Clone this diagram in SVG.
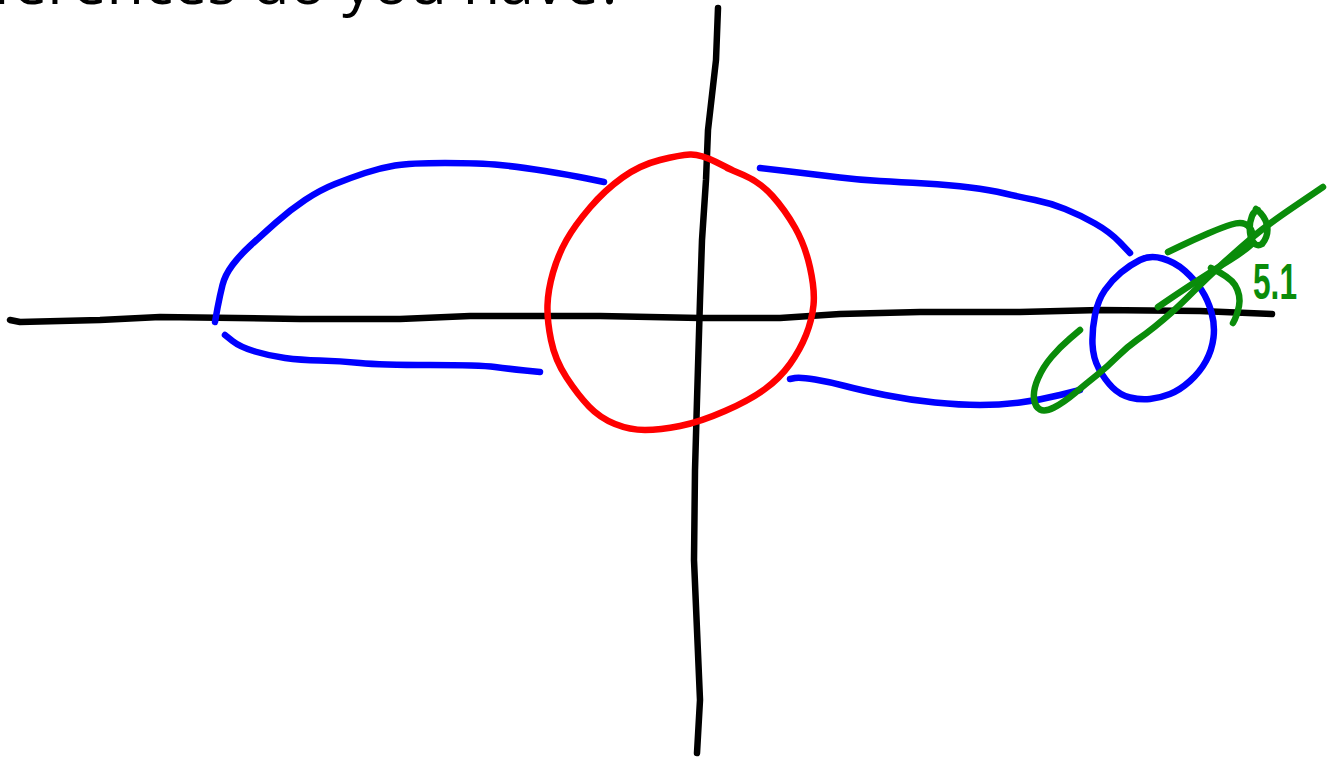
<svg xmlns="http://www.w3.org/2000/svg" width="1337" height="759" viewBox="0 0 1337 759">
<style>
.s{fill:none;stroke-width:6.5;stroke-linecap:round;stroke-linejoin:round}
.k{stroke:#000}
.r{stroke:#ff0000}
.b{stroke:#0000ff}
.g{stroke:#0a8c0a}
.t{font-family:"Open Sans",sans-serif;font-size:61px;fill:#000}
</style>
<rect width="1337" height="759" fill="#fff"/>
<text class="t" x="625" y="4" text-anchor="end">differences do you have?</text>
<g id="axes">
<path class="s k" d="M10,320 L20,322 L100,320 L160,317 L300,319 L400,319 L470,316 L600,316 L700,318 L780,318 L840,314 L920,312 L1020,312 L1100,310 L1200,311 L1272,314"/>
<path class="s k" d="M718,8 L716,60 L712,95 L708,130 L706,180 L702,240 L700,300 L697,400 L695,470 L694,560 L697,630 L700,700 L697,753"/>
</g>
<g id="red-circle">
<path class="s r" d="M727,168 L743.5,175 Q760,182 772.5,196 Q785,210 795,227.5 Q805,245 810,267.5 Q815,290 813.5,305 Q812,320 806,335 Q800,350 790,364 Q780,378 765,389 Q750,400 725,411 Q700,422 680,426 Q660,430 645,430 Q630,430 615,424 Q600,418 589,406.5 Q578,395 566.5,377.5 Q555,360 551,340 Q547,320 547.5,305 Q548,290 553,272.5 Q558,255 566.5,240 Q575,225 590,207.5 Q605,190 622.5,177.5 Q640,165 660,160 Q680,155 690,154.5 Q700,154 716,162 L732,170"/>
</g>
<g id="blue-left">
<path class="s b" d="M604,182 L587,178.5 Q570,175 545,171 Q520,167 500,165 Q480,163 445,163 Q410,163 395,165.5 Q380,168 365,173 Q350,178 335,184 Q320,190 305,200 Q290,210 276,222.5 Q262,235 251,245 Q240,255 232.5,265 Q225,275 222.5,285 Q220,295 217.5,308 L215,322"/>
<path class="s b" d="M225,335 L232.5,341 Q240,347 255,351.5 Q270,356 285,358 Q300,360 320,360.5 Q340,361 360,363 Q380,365 430,365 Q480,365 495,367 Q510,369 525,370.5 L540,372"/>
</g>
<g id="blue-right">
<path class="s b" d="M760,168 L790,171.5 Q820,175 840,177.5 Q860,180 880,181 Q900,182 925,183.5 Q950,185 970,187.5 Q990,190 1005,193.5 Q1020,197 1035,200 Q1050,203 1065,209 Q1080,215 1095,223.5 Q1110,232 1120,242.5 L1130,253"/>
<path class="s b" d="M790,379 L795,378 Q800,377 815,379.5 Q830,382 845,386 Q860,390 885,395 Q910,400 935,402.5 Q960,405 980,405 Q1000,405 1020,402.5 Q1040,400 1060,395 L1080,390"/>
<path class="s b" d="M1140,260 Q1150,255 1162.5,258.5 Q1175,262 1185,271 Q1195,280 1201.5,290 Q1208,300 1211.5,312.5 Q1215,325 1213.5,337.5 Q1212,350 1206,361 Q1200,372 1190,381 Q1180,390 1170,394 Q1160,398 1150,399 Q1140,400 1130,397.5 Q1120,395 1112.5,387.5 Q1105,380 1099,369 Q1093,358 1092.5,344 Q1092,330 1095,315 Q1098,300 1105,290 Q1112,280 1121,272.5 Q1130,265 1140,260 Z"/>
</g>
<g id="green-marks">
<path class="s g" d="M1323,187 L1295,206 Q1267,225 1253.5,236.5 Q1240,248 1225,261.5 Q1210,275 1195,290 Q1180,305 1171.5,312.5 Q1163,320 1155,326.5 Q1147,333 1137,340 Q1127,347 1117,357 Q1107,367 1097,375 Q1087,383 1075,393 Q1063,403 1054,407.5 Q1045,412 1040,409.5 Q1035,407 1034,398.5 Q1033,390 1038,378.5 Q1043,367 1051.5,357 Q1060,347 1070,338.5 L1080,330"/>
<path class="s g" d="M1168,252 L1180.5,246 Q1193,240 1208,233.5 Q1223,227 1231.5,224.5 Q1240,222 1245,224 Q1250,226 1252,232"/>
<path class="s g" d="M1256,209 Q1265,216 1267,225 Q1269,236 1262,244 Q1255,248 1251,238 Q1248,226 1252,216 Q1254,211 1258,210"/>
<path class="s g" d="M1158,307 L1170.5,298.5 Q1183,290 1200,279 Q1217,268 1230,260 Q1243,252 1253,243"/>
<path class="s g" d="M1211,268 Q1230,277 1235,285 Q1241,295 1239,306 Q1237,316 1233,323"/>
<text x="1253" y="299" font-family="Liberation Sans, sans-serif" font-size="50" font-weight="bold" fill="#0a8c0a" textLength="44" lengthAdjust="spacingAndGlyphs">5.1</text>
</g>
</svg>
